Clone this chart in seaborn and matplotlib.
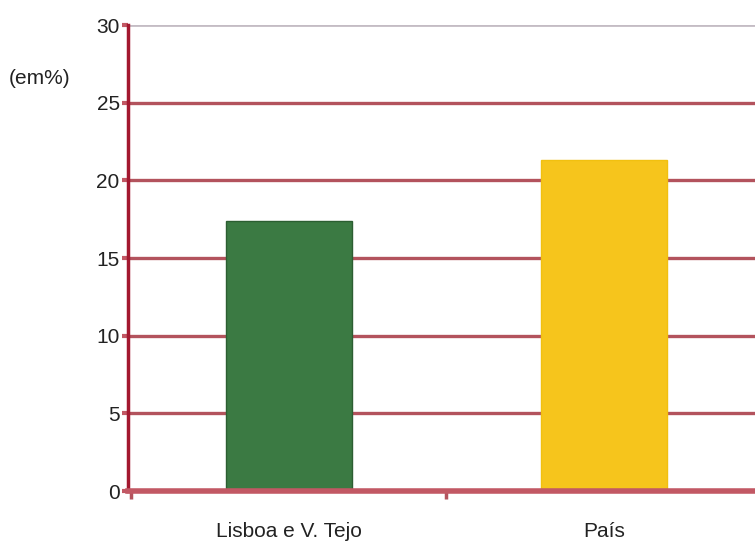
import matplotlib
matplotlib.use("Agg")
import matplotlib.pyplot as plt
import seaborn as sns
import pandas as pd

categories = ["Lisboa e V. Tejo", "País"]
values = [17.4, 21.3]
bar_colors = ["#3b7a43", "#f6c51c"]
yticks = [0, 5, 10, 15, 20, 25, 30]

df = pd.DataFrame({"regiao": categories, "valor": values})

sns.set_style("white")
plt.rcParams["font.family"] = ["Liberation Sans Narrow", "Liberation Sans", "DejaVu Sans"]

fig = plt.figure(figsize=(7.55, 5.44), dpi=100)
ax = fig.add_axes([0.1695, 0.0974, 0.8305, 0.8566])

sns.barplot(data=df, x="regiao", y="valor", hue="regiao", palette=bar_colors,
            width=0.4, legend=False, ax=ax, saturation=1)
for p, c in zip(ax.patches, ["#2c5e32", "#f1c010"]):
    p.set_edgecolor(c)
    p.set_linewidth(1)

ax.set_xlim(-0.51, 1.48)
ax.set_ylim(0, 30)
ax.set_yticks(yticks)
ax.set_yticklabels([str(t) for t in yticks], fontsize=15, color="#222222")
ax.set_xlabel("")
ax.set_ylabel("")

# grid
ax.set_axisbelow(True)
ax.yaxis.grid(True, color="#b3535d", linewidth=2.4)
ax.xaxis.grid(False)
gl = ax.get_ygridlines()
gl[-1].set_color("#c4bcc4")
gl[-1].set_linewidth(2)

# spines
for s in ["top", "right"]:
    ax.spines[s].set_visible(False)
ax.spines["left"].set_color("#a3182f")
ax.spines["left"].set_linewidth(2.5)
ax.spines["bottom"].set_color("#c25864")
ax.spines["bottom"].set_linewidth(4)

ax.tick_params(axis="y", left=True, length=4, width=3, color="#c25864", pad=2)
ax.tick_params(axis="x", bottom=True, length=0, pad=22, labelsize=15, labelcolor="#222222")
ax.set_xticks([-0.5, 0.5], minor=True)
ax.tick_params(axis="x", which="minor", bottom=True, length=6, width=2.5,
               color="#b3535d", direction="out")

fig.text(0.012, 0.855, "(em%)", fontsize=15, color="#222222", ha="left", va="center")

fig.savefig("out.png", dpi=100)
